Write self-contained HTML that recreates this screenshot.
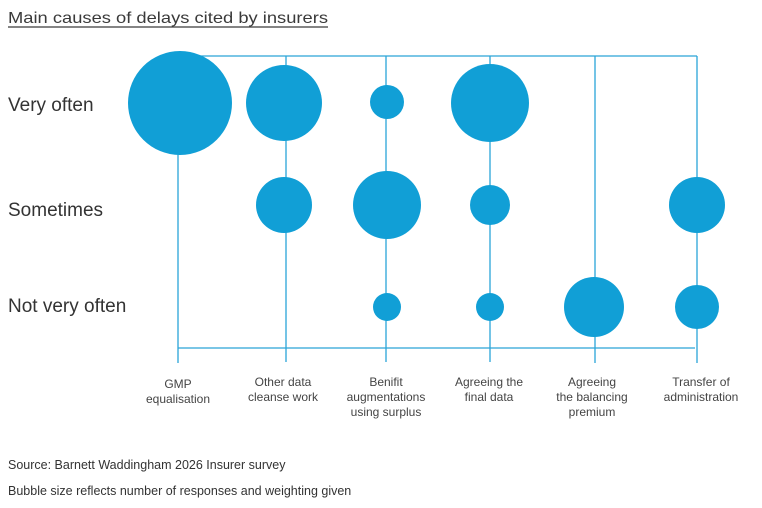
<!DOCTYPE html>
<html><head><meta charset="utf-8"><style>
body{margin:0;background:#fff;width:762px;height:503px;overflow:hidden;font-family:"Liberation Sans",sans-serif;}
</style></head><body>
<svg width="762" height="503" viewBox="0 0 762 503" xmlns="http://www.w3.org/2000/svg" font-family="Liberation Sans, sans-serif">
<text x="8" y="23" font-size="16" fill="#3a3a3a" textLength="320" lengthAdjust="spacingAndGlyphs">Main causes of delays cited by insurers</text>
<line x1="8" y1="27" x2="328" y2="27" stroke="#3a3a3a" stroke-width="1.2"/>
<text x="8" y="111" font-size="19" fill="#333">Very often</text>
<text x="8" y="216" font-size="19" fill="#333">Sometimes</text>
<text x="8" y="312" font-size="19" fill="#333">Not very often</text>
<g stroke="#2aa5d8" stroke-width="1.3" fill="none">
<line x1="190" y1="56" x2="697" y2="56"/>
<line x1="178" y1="348" x2="695" y2="348"/>
<line x1="178" y1="103" x2="178" y2="363"/>
<line x1="286" y1="56" x2="286" y2="362"/>
<line x1="386" y1="56" x2="386" y2="362"/>
<line x1="490" y1="56" x2="490" y2="362"/>
<line x1="595" y1="56" x2="595" y2="363"/>
<line x1="697" y1="56" x2="697" y2="363"/>
</g>
<g fill="#119fd6">
<circle cx="180" cy="103" r="52"/>
<circle cx="284" cy="103" r="38"/>
<circle cx="387" cy="102" r="17"/>
<circle cx="490" cy="103" r="39"/>
<circle cx="284" cy="205" r="28"/>
<circle cx="387" cy="205" r="34"/>
<circle cx="490" cy="205" r="20"/>
<circle cx="697" cy="205" r="28"/>
<circle cx="387" cy="307" r="14"/>
<circle cx="490" cy="307" r="14"/>
<circle cx="594" cy="307" r="30"/>
<circle cx="697" cy="307" r="22"/>
</g>
<g font-size="12" fill="#444" text-anchor="middle">
<text x="178" y="388">GMP</text><text x="178" y="403">equalisation</text>
<text x="283" y="386">Other data</text><text x="283" y="401">cleanse work</text>
<text x="386" y="386">Benifit</text><text x="386" y="401">augmentations</text><text x="386" y="416">using surplus</text>
<text x="489" y="386">Agreeing the</text><text x="489" y="401">final data</text>
<text x="592" y="386">Agreeing</text><text x="592" y="401">the balancing</text><text x="592" y="416">premium</text>
<text x="701" y="386">Transfer of</text><text x="701" y="401">administration</text>
</g>
<text x="8" y="469" font-size="12.5" fill="#333">Source: Barnett Waddingham 2026 Insurer survey</text>
<text x="8" y="495" font-size="12.5" fill="#333">Bubble size reflects number of responses and weighting given</text>
</svg>
</body></html>
